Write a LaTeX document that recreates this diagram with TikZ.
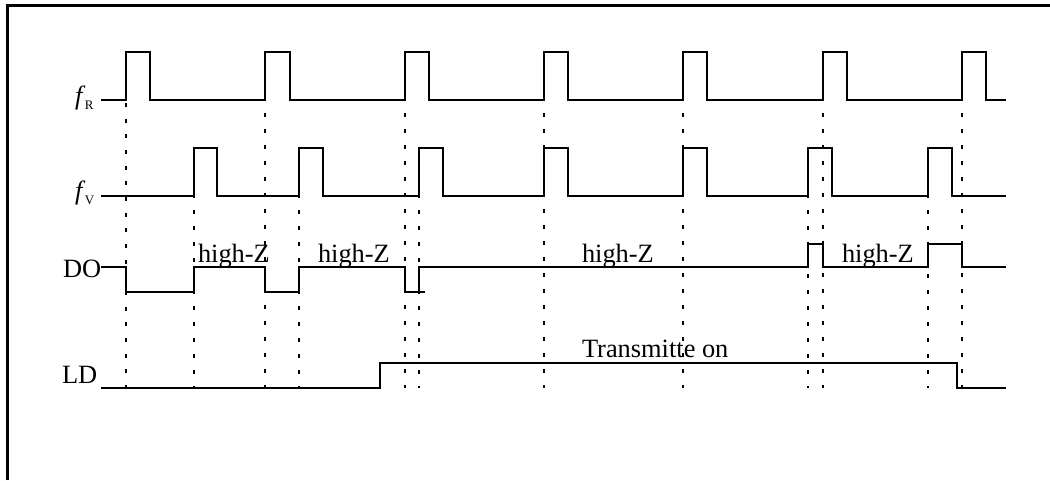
\documentclass[tikz,border=0pt]{standalone}
\usepackage{fontspec}
\setmainfont{Liberation Serif}
\begin{document}
\begin{tikzpicture}[x=1pt,y=-1pt,
  signal/.style={line width=2pt,black,miter limit=10},
  frameline/.style={line width=3pt,black},
  guide/.style={line width=2pt,black,dash pattern=on 4pt off 12pt},
  guidefirst/.style={line width=2pt,black,dash pattern=on 4pt off 11.67pt},
  lab/.style={anchor=base west,inner sep=0pt,outer sep=0pt,font=\fontsize{26.4}{30}\selectfont}]
\useasboundingbox (0,0) rectangle (1050,480);
\fill[white] (0,0) rectangle (1050,480);
% frame
\draw[frameline] (7.5,480) -- (7.5,5.5) -- (1050,5.5);
% guides
\draw[guidefirst] (126,103) -- (126,388);
\foreach \gx in {265,405,544,683,823,962}{
  \draw[guide] (\gx,97) -- (\gx,388);
}
\foreach \gx in {194,299,419,808,928}{
  \draw[guide] (\gx,194) -- (\gx,388);
}
% fR
\draw[signal] (101,100) -- (126,100) -- (126,52) -- (150,52) -- (150,100)
  -- (265,100) -- (265,52) -- (290,52) -- (290,100)
  -- (405,100) -- (405,52) -- (429,52) -- (429,100)
  -- (544,100) -- (544,52) -- (568,52) -- (568,100)
  -- (683,100) -- (683,52) -- (707,52) -- (707,100)
  -- (823,100) -- (823,52) -- (847,52) -- (847,100)
  -- (962,100) -- (962,52) -- (986,52) -- (986,100) -- (1006,100);
% fV
\draw[signal] (101,196) -- (194,196) -- (194,148) -- (217,148) -- (217,196)
  -- (299,196) -- (299,148) -- (323,148) -- (323,196)
  -- (419,196) -- (419,148) -- (443,148) -- (443,196)
  -- (544,196) -- (544,148) -- (568,148) -- (568,196)
  -- (683,196) -- (683,148) -- (707,148) -- (707,196)
  -- (808,196) -- (808,148) -- (832,148) -- (832,196)
  -- (928,196) -- (928,148) -- (952,148) -- (952,196) -- (1006,196);
% DO
\draw[signal] (101,267) -- (126,267) -- (126,292) -- (194,292) -- (194,267)
  -- (265,267) -- (265,292) -- (299,292) -- (299,267)
  -- (405,267) -- (405,292) -- (425,292);
\draw[signal] (419,292) -- (419,267) -- (808,267) -- (808,244) -- (823,244) -- (823,267)
  -- (928,267) -- (928,244) -- (962,244) -- (962,267) -- (1006,267);
% LD
\draw[signal] (101,388) -- (380,388) -- (380,363) -- (957,363) -- (957,388) -- (1006,388);
% labels
\node[lab] (fr) at (75,104) {\textit{f}\kern-0.5pt\raisebox{-5pt}{\fontsize{13}{14}\selectfont R}};
\node[lab] (fv) at (75,199.7) {\textit{f}\kern-0.5pt\raisebox{-5pt}{\fontsize{13}{14}\selectfont V}};
\node[lab] (do) at (63,277) {DO};
\node[lab] (ld) at (62,383) {LD};
\node[lab] (hz1) at (198,262) {high-Z};
\node[lab] (hz2) at (318,262) {high-Z};
\node[lab] (hz3) at (582,262) {high-Z};
\node[lab] (hz4) at (842,262) {high-Z};
\node[lab] (tx) at (582,357) {Transmitte on};
\end{tikzpicture}
\end{document}
